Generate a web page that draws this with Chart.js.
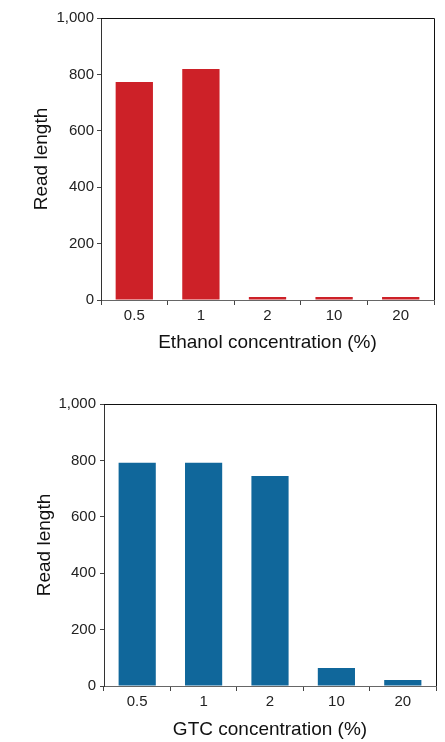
<!DOCTYPE html>
<html lang="en">
<head>
    <meta charset="UTF-8">
    <title>Read length vs concentration</title>
    <script src="https://cdn.jsdelivr.net/npm/chart.js"></script>
    <style>
        body { margin: 0; background: #fff; }
        #topWrap { position: absolute; left: 0; top: 0; }
        #bottomWrap { position: absolute; left: 0; top: 380px; }
    </style>
</head>
<body>
    <div id="topWrap"><canvas id="ethanolChart" width="445" height="370"></canvas></div>
    <div id="bottomWrap"><canvas id="gtcChart" width="445" height="362"></canvas></div>

    <script>
        // data
        var concentrations = ['0.5', '1', '2', '10', '20'];
        var ethanolReadLength = [773, 819, 11, 11, 11];
        var gtcReadLength = [792, 792, 745, 64, 21];
        var yTicks = [0, 200, 400, 600, 800, 1000];

        var fontFamily = '"Liberation Sans", Arial, Helvetica, sans-serif';

        // top and right frame lines
        var framePlugin = {
            id: 'frame',
            afterDraw: function (chart) {
                var a = chart.chartArea;
                var ctx = chart.ctx;
                ctx.save();
                ctx.strokeStyle = '#111';
                ctx.lineWidth = 1;
                ctx.beginPath();
                ctx.moveTo(a.left, a.top + 0.5);
                ctx.lineTo(a.right + 0.5, a.top + 0.5);
                ctx.lineTo(a.right + 0.5, a.bottom);
                ctx.stroke();
                ctx.restore();
            }
        };

        function makeChart(id, values, color, xTitle, cfg) {
            var ctx = document.getElementById(id).getContext('2d');
            return new Chart(ctx, {
                type: 'bar',
                data: {
                    labels: concentrations,
                    datasets: [{
                        data: values,
                        backgroundColor: color,
                        borderWidth: 0,
                        categoryPercentage: 1,
                        barPercentage: 0.56
                    }]
                },
                options: {
                    responsive: false,
                    animation: false,
                    layout: { padding: { left: 0, top: cfg.top, right: cfg.right, bottom: 0 } },
                    plugins: { legend: { display: false }, tooltip: { enabled: false } },
                    scales: {
                        x: {
                            grid: { offset: true, drawOnChartArea: false, tickLength: 5, color: '#444' },
                            border: { color: '#666', width: 1 },
                            ticks: { color: '#222', font: { family: fontFamily, size: 15 }, padding: 2 },
                            title: {
                                display: true, text: xTitle, color: '#111',
                                font: { family: fontFamily, size: 19 },
                                padding: { top: 0, bottom: cfg.xTitlePad }
                            },
                            afterFit: function (scale) { scale.height = cfg.xHeight; }
                        },
                        y: {
                            min: 0, max: 1000,
                            afterBuildTicks: function (scale) {
                                scale.ticks = yTicks.map(function (v) { return { value: v }; });
                            },
                            grid: { drawOnChartArea: false, tickLength: 4, color: '#444' },
                            border: { color: '#333', width: 1 },
                            ticks: { color: '#222', font: { family: fontFamily, size: 15 }, padding: cfg.yPad },
                            title: {
                                display: true, text: 'Read length', color: '#111',
                                font: { family: fontFamily, size: 19 },
                                padding: { top: cfg.yTitlePad, bottom: 0 }
                            },
                            afterFit: function (scale) { scale.width = cfg.yWidth; }
                        }
                    }
                },
                plugins: [framePlugin]
            });
        }

        makeChart('ethanolChart', ethanolReadLength, '#cd2128', 'Ethanol concentration (%)',
            { top: 18, right: 11, xHeight: 70, xTitlePad: 15.5, yWidth: 101, yPad: 3, yTitlePad: 30 });

        makeChart('gtcChart', gtcReadLength, '#10679b', 'GTC concentration (%)',
            { top: 24, right: 9, xHeight: 56, xTitlePad: 0.5, yWidth: 104, yPad: 4, yTitlePad: 33.5 });
    </script>
</body>
</html>
